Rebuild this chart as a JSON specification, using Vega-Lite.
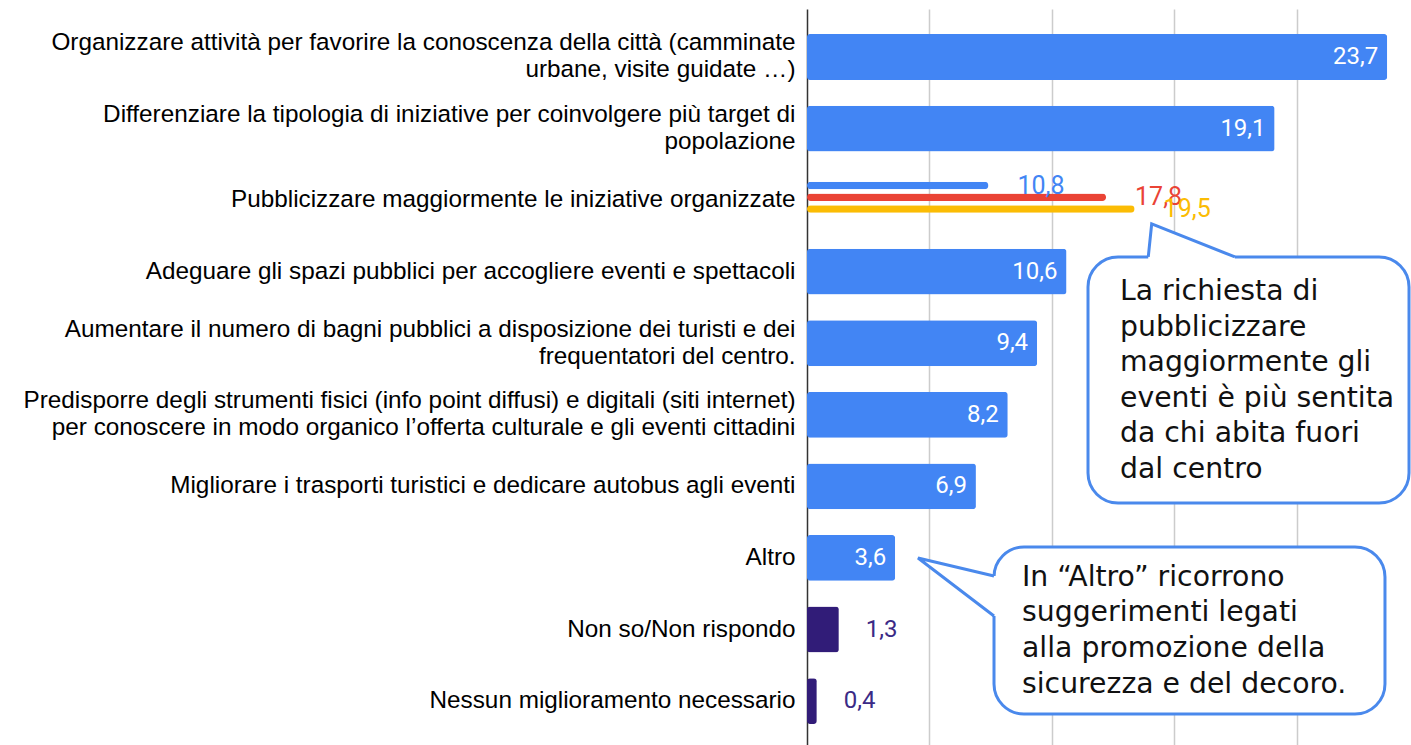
{
  "$schema": "https://vega.github.io/schema/vega-lite/v6.json",
  "autosize": "none",
  "width": 604,
  "height": 736,
  "padding": {"left": 807, "top": 9, "right": 0, "bottom": 0},
  "background": "white",
  "config": {
    "view": {"stroke": null},
    "locale": {"number": {"decimal": ",", "thousands": ".", "grouping": [3], "currency": ["€", ""]}}
  },
  "datasets": {
    "bars": [
      {"cat": "Organizzare attività per favorire la conoscenza della città (camminate|urbane, visite guidate …)", "value": 23.7, "tipo": "proposta"},
      {"cat": "Differenziare la tipologia di iniziative per coinvolgere più target di|popolazione", "value": 19.1, "tipo": "proposta"},
      {"cat": "Adeguare gli spazi pubblici per accogliere eventi e spettacoli", "value": 10.6, "tipo": "proposta"},
      {"cat": "Aumentare il numero di bagni pubblici a disposizione dei turisti e dei|frequentatori del centro.", "value": 9.4, "tipo": "proposta"},
      {"cat": "Predisporre degli strumenti fisici (info point diffusi) e digitali (siti internet)|per conoscere in modo organico l’offerta culturale e gli eventi cittadini", "value": 8.2, "tipo": "proposta"},
      {"cat": "Migliorare i trasporti turistici e dedicare autobus agli eventi", "value": 6.9, "tipo": "proposta"},
      {"cat": "Altro", "value": 3.6, "tipo": "proposta"},
      {"cat": "Non so/Non rispondo", "value": 1.3, "tipo": "nessuna"},
      {"cat": "Nessun miglioramento necessario", "value": 0.4, "tipo": "nessuna"}
    ],
    "thin": [
      {"cat": "Pubblicizzare maggiormente le iniziative organizzate", "gruppo": "Totale", "value": 10.8},
      {"cat": "Pubblicizzare maggiormente le iniziative organizzate", "gruppo": "Centro", "value": 17.8},
      {"cat": "Pubblicizzare maggiormente le iniziative organizzate", "gruppo": "Fuori centro", "value": 19.5}
    ],
    "boxes": [
      {"id": 1, "x": 11.479, "x2": 24.592, "r": 2.794, "r2": 6.232},
      {"id": 2, "x": 7.639, "x2": 23.61, "r": 6.846, "r2": 9.18}
    ],
    "tailfill": [
      {"id": 1, "x": 13.94, "r": 2.794, "r2": 2.85},
      {"id": 1, "x": 14.08, "r": 2.333, "r2": 2.85},
      {"id": 1, "x": 17.48, "r": 2.794, "r2": 2.85},
      {"id": 2, "x": 4.534, "r": 7.0, "r2": 7.0},
      {"id": 2, "x": 7.639, "r": 7.252, "r2": 7.81},
      {"id": 2, "x": 7.8, "r": 7.252, "r2": 7.81}
    ],
    "tailline": [
      {"id": 1, "ord": 1, "x": 13.94, "r": 2.794},
      {"id": 1, "ord": 2, "x": 14.08, "r": 2.333},
      {"id": 1, "ord": 3, "x": 17.48, "r": 2.794},
      {"id": 2, "ord": 1, "x": 7.639, "r": 7.252},
      {"id": 2, "ord": 2, "x": 4.534, "r": 7.0},
      {"id": 2, "ord": 3, "x": 7.639, "r": 7.81}
    ],
    "notes": [
      {"x": 12.786, "r": 3.283, "testo": "La richiesta di"},
      {"x": 12.786, "r": 3.78, "testo": "pubblicizzare"},
      {"x": 12.786, "r": 4.276, "testo": "maggiormente gli"},
      {"x": 12.786, "r": 4.772, "testo": "eventi è più sentita"},
      {"x": 12.786, "r": 5.268, "testo": "da chi abita fuori"},
      {"x": 12.786, "r": 5.771, "testo": "dal centro"},
      {"x": 8.783, "r": 7.273, "testo": "In “Altro” ricorrono"},
      {"x": 8.783, "r": 7.769, "testo": "suggerimenti legati"},
      {"x": 8.783, "r": 8.265, "testo": "alla promozione della"},
      {"x": 8.783, "r": 8.775, "testo": "sicurezza e del decoro."}
    ]
  },
  "resolve": {"scale": {"x": "independent", "y": "independent", "color": "independent"}, "axis": {"x": "independent", "y": "independent"}},
  "layer": [
    {
      "data": {"name": "bars"},
      "encoding": {
        "y": {
          "field": "cat", "type": "nominal",
          "scale": {
            "domain": [
              "Organizzare attività per favorire la conoscenza della città (camminate|urbane, visite guidate …)",
              "Differenziare la tipologia di iniziative per coinvolgere più target di|popolazione",
              "Pubblicizzare maggiormente le iniziative organizzate",
              "Adeguare gli spazi pubblici per accogliere eventi e spettacoli",
              "Aumentare il numero di bagni pubblici a disposizione dei turisti e dei|frequentatori del centro.",
              "Predisporre degli strumenti fisici (info point diffusi) e digitali (siti internet)|per conoscere in modo organico l’offerta culturale e gli eventi cittadini",
              "Migliorare i trasporti turistici e dedicare autobus agli eventi",
              "Altro",
              "Non so/Non rispondo",
              "Nessun miglioramento necessario"
            ],
            "paddingInner": 0.36, "paddingOuter": 0.322, "align": 0.544
          },
          "axis": {
            "title": null, "labelExpr": "split(datum.label, '|')",
            "labelFont": "Liberation Sans", "labelFontSize": 24.3, "labelColor": "#000000",
            "labelLimit": 900, "labelPadding": 12, "labelLineHeight": 27,
            "labelOffset": {"condition": {"test": "indexof(datum.label, '|') >= 0", "value": -13.5}, "value": 0},
            "ticks": false, "domainColor": "#333333", "domainWidth": 1.5, "grid": false
          }
        },
        "x": {
          "field": "value", "type": "quantitative",
          "scale": {"domain": [0, 24.673], "nice": false, "zero": true},
          "axis": {"title": null, "labels": false, "ticks": false, "domain": false, "grid": true,
                   "gridColor": "#cccccc", "gridWidth": 1.5, "values": [5, 10, 15, 20]}
        }
      },
      "layer": [
        {
          "mark": {"type": "bar", "cornerRadius": 3},
          "encoding": {
            "color": {"field": "tipo", "type": "nominal",
                      "scale": {"domain": ["proposta", "nessuna"], "range": ["#4285f4", "#311c78"]},
                      "legend": null}
          }
        },
        {
          "transform": [{"filter": "datum.value >= 3"}],
          "mark": {"type": "text", "align": "right", "baseline": "middle", "dx": -9,
                   "font": "Roboto", "fontSize": 24, "color": "#ffffff"},
          "encoding": {"text": {"field": "value", "type": "quantitative", "format": ".1f"}}
        },
        {
          "transform": [{"filter": "datum.value < 3"}],
          "mark": {"type": "text", "align": "left", "baseline": "middle", "dx": 27,
                   "font": "Roboto", "fontSize": 24, "color": "#3b2a86"},
          "encoding": {"text": {"field": "value", "type": "quantitative", "format": ".1f"}}
        }
      ]
    },
    {
      "data": {"name": "thin"},
      "encoding": {
        "y": {
          "field": "cat", "type": "nominal",
          "scale": {
            "domain": [
              "Organizzare attività per favorire la conoscenza della città (camminate|urbane, visite guidate …)",
              "Differenziare la tipologia di iniziative per coinvolgere più target di|popolazione",
              "Pubblicizzare maggiormente le iniziative organizzate",
              "Adeguare gli spazi pubblici per accogliere eventi e spettacoli",
              "Aumentare il numero di bagni pubblici a disposizione dei turisti e dei|frequentatori del centro.",
              "Predisporre degli strumenti fisici (info point diffusi) e digitali (siti internet)|per conoscere in modo organico l’offerta culturale e gli eventi cittadini",
              "Migliorare i trasporti turistici e dedicare autobus agli eventi",
              "Altro",
              "Non so/Non rispondo",
              "Nessun miglioramento necessario"
            ],
            "paddingInner": 0.36, "paddingOuter": 0.322, "align": 0.544
          },
          "axis": null
        },
        "yOffset": {
          "field": "gruppo", "type": "nominal",
          "scale": {"domain": ["Totale", "Centro", "Fuori centro"], "paddingInner": 0.359, "paddingOuter": 0.637, "align": 0.305}
        },
        "x": {
          "field": "value", "type": "quantitative",
          "scale": {"domain": [0, 35.95], "nice": false, "zero": true},
          "axis": null
        },
        "color": {"field": "gruppo", "type": "nominal",
                  "scale": {"domain": ["Totale", "Centro", "Fuori centro"], "range": ["#4285f4", "#ea4335", "#fbbc04"]},
                  "legend": null}
      },
      "layer": [
        {"mark": {"type": "bar", "cornerRadius": 3.75}},
        {
          "mark": {"type": "text", "align": "left", "baseline": "middle", "dx": 29,
                   "font": "Roboto", "fontSize": 25},
          "encoding": {"text": {"field": "value", "type": "quantitative", "format": ".1f"}}
        }
      ]
    },
    {
      "encoding": {
        "x": {"field": "x", "type": "quantitative", "scale": {"domain": [0, 24.673], "nice": false, "zero": false}, "axis": null},
        "y": {"field": "r", "type": "quantitative", "scale": {"domain": [-0.6707, 9.613], "nice": false, "zero": false, "reverse": true}, "axis": null}
      },
      "layer": [
        {
          "data": {"name": "boxes"},
          "mark": {"type": "rect", "cornerRadius": 30, "fill": "#ffffff", "stroke": "#4a89ec", "strokeWidth": 3},
          "encoding": {"x2": {"field": "x2"}, "y2": {"field": "r2"}}
        },
        {
          "data": {"name": "tailfill"},
          "mark": {"type": "area", "orient": "vertical", "fill": "#ffffff", "stroke": null, "opacity": 1},
          "encoding": {"y2": {"field": "r2"}, "detail": {"field": "id", "type": "nominal"}}
        },
        {
          "data": {"name": "tailline"},
          "mark": {"type": "line", "stroke": "#4a89ec", "strokeWidth": 3, "strokeJoin": "miter"},
          "encoding": {"detail": {"field": "id", "type": "nominal"}, "order": {"field": "ord", "type": "quantitative"}}
        },
        {
          "data": {"name": "notes"},
          "mark": {"type": "text", "align": "left", "baseline": "middle", "font": "DejaVu Sans", "fontSize": 28.3, "color": "#111111"},
          "encoding": {"text": {"field": "testo", "type": "nominal"}}
        }
      ]
    }
  ]
}
